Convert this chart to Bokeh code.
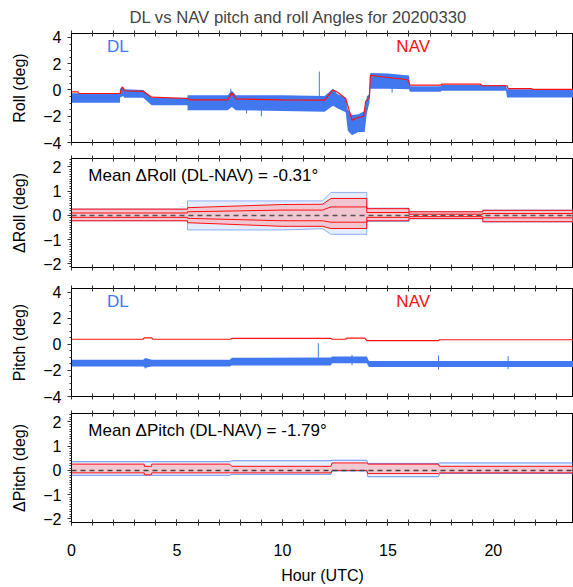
from bokeh.plotting import figure
from bokeh.layouts import column
from bokeh.models import Range1d, LinearAxis, SingleIntervalTicker, FixedTicker, Label, Span
from bokeh.embed import file_html
from bokeh.resources import INLINE

FONT = "Liberation Sans"
BLUE = "#4178f0"
LBLUE = "#a8c0f8"
RED = "#ff1010"
PINK = "#ff9898"

TITLE = "DL vs NAV pitch and roll Angles for 20200330"
X_LABEL = "Hour (UTC)"
X_END = 23.8
X_HOUR_TICKS = list(range(0, 24))

# ---------------- Roll ----------------
nav_roll_h = [0, 0.3, 0.35, 2.3, 2.4, 2.55, 3.4, 3.8, 5.5, 5.6, 7.4, 7.6, 7.8, 10.0, 12.0, 12.4,
              12.6, 13.0, 13.3, 13.5, 13.85, 13.95, 14.12, 14.17, 15.0, 15.95, 16.05, 17.5, 17.55,
              19.4, 19.45, 20.65, 20.7, 21.8, 21.85, 23.8]
nav_roll = [-0.14, -0.14, -0.27, -0.27, 0.24, -0.06, -0.1, -0.55, -0.65, -0.75, -0.75, -0.22, -0.68,
            -0.76, -0.78, 0.0, -0.15, -0.65, -2.3, -2.15, -2.0, -0.85, -0.6, 1.12, 0.95, 0.78, 0.37,
            0.37, 0.44, 0.44, 0.32, 0.32, 0.11, 0.11, 0.04, 0.04]

dl_roll_h = [0, 2.3, 2.3, 2.45, 2.5, 3.4, 3.8, 5.5, 5.5, 7.4, 7.6, 7.8, 10.0, 12.0, 12.4, 12.6,
             13.0, 13.1, 13.3, 13.6, 13.9, 14.0, 14.12, 14.17, 15.0, 16.0, 16.05, 17.5, 17.55,
             20.6, 20.65, 23.8]
dl_roll_hi = [-0.25, -0.25, 0.1, 0.25, 0.05, 0.0, -0.6, -0.6, -0.4, -0.4, -0.05, -0.4, -0.4, -0.45,
              0.1, -0.3, -0.6, -1.5, -1.9, -1.85, -1.6, -0.5, -0.3, 1.3, 1.25, 1.1, 0.29, 0.29,
              0.37, 0.37, 0.05, 0.05]
dl_roll_lo = [-0.97, -0.97, -0.6, -0.45, -0.6, -0.6, -1.16, -1.16, -1.54, -1.54, -1.3, -1.54, -1.6,
              -1.66, -1.2, -1.4, -1.7, -3.1, -3.45, -3.2, -3.2, -1.8, -1.0, 0.1, 0.1, 0.05, -0.14,
              -0.14, -0.06, -0.06, -0.57, -0.57]

roll_spike_h = [11.75, 9.0, 7.55, 15.2, 8.3]
roll_spike_lo = [-0.6, -2.0, -1.2, -0.2, -1.8]
roll_spike_hi = [1.4, -1.5, 0.1, 0.5, -1.4]

# ---------------- Delta roll ----------------
droll_h = [0, 5.5, 5.5, 10.0, 11.9, 12.3, 14.0, 14.0, 16.0, 16.0, 19.5, 19.5, 23.8]
droll_blue_hi = [0.26, 0.26, 0.6, 0.6, 0.6, 0.95, 0.95, 0.3, 0.3, 0.16, 0.16, 0.22, 0.22]
droll_blue_lo = [-0.22, -0.22, -0.6, -0.6, -0.55, -0.78, -0.78, -0.25, -0.25, -0.14, -0.14, -0.27, -0.27]
droll_red_hi = [0.26, 0.26, 0.32, 0.45, 0.46, 0.7, 0.7, 0.28, 0.28, 0.15, 0.15, 0.21, 0.21]
droll_red_lo = [-0.22, -0.22, -0.3, -0.45, -0.45, -0.54, -0.54, -0.22, -0.22, -0.13, -0.13, -0.26, -0.26]
droll_red_in_hi = [0.1, 0.1, 0.15, 0.22, 0.22, 0.35, 0.35, 0.12, 0.12, 0.05, 0.05, 0.08, 0.08]
droll_red_in_lo = [-0.08, -0.08, -0.12, -0.22, -0.22, -0.28, -0.28, -0.08, -0.08, -0.05, -0.05, -0.1, -0.1]
droll_mean = -0.31

# ---------------- Pitch ----------------
nav_pitch_h = [0, 3.4, 3.45, 3.8, 3.85, 7.55, 7.6, 12.3, 12.35, 13.0, 13.05, 13.9, 14.0, 17.4, 17.45, 23.8]
nav_pitch = [0.40, 0.40, 0.50, 0.50, 0.40, 0.40, 0.47, 0.47, 0.40, 0.40, 0.48, 0.48, 0.29, 0.29, 0.36, 0.36]

dl_pitch_h = [0, 3.4, 3.5, 3.8, 7.5, 7.6, 12.3, 12.35, 14.0, 14.1, 23.8]
dl_pitch_hi = [-1.18, -1.18, -1.05, -1.18, -1.18, -1.03, -1.0, -0.93, -0.93, -1.28, -1.28]
dl_pitch_lo = [-1.69, -1.69, -1.8, -1.69, -1.69, -1.61, -1.61, -1.45, -1.45, -1.74, -1.74]

pitch_spike_h = [11.7, 17.4, 20.7, 3.5, 13.3]
pitch_spike_lo = [-1.0, -1.94, -1.9, -1.85, -1.6]
pitch_spike_hi = [0.09, -0.85, -0.9, -1.1, -0.8]

# ---------------- Delta pitch ----------------
dpitch_h = [0, 3.45, 3.45, 3.8, 3.8, 7.5, 7.6, 12.3, 12.35, 14.0, 14.05, 17.4, 17.45, 23.8]
dpitch_blue_hi = [0.36, 0.36, 0.36, 0.36, 0.36, 0.36, 0.4, 0.4, 0.42, 0.42, 0.29, 0.29, 0.31, 0.31]
dpitch_blue_lo = [-0.2, -0.2, -0.2, -0.2, -0.2, -0.2, -0.16, -0.16, -0.02, -0.02, -0.26, -0.26, -0.13, -0.13]
dpitch_red_hi = [0.26, 0.26, 0.17, 0.17, 0.26, 0.26, 0.17, 0.17, 0.31, 0.31, 0.26, 0.26, 0.17, 0.17]
dpitch_red_lo = [-0.1, -0.1, -0.18, -0.18, -0.1, -0.1, -0.1, -0.1, 0.0, 0.0, -0.13, -0.13, -0.1, -0.1]
dpitch_mean = -1.79

X_TICK_INTERVAL = 5
ANGLE_TICK_INTERVAL = 2
DELTA_TICK_INTERVAL = 1


def style_x(ax):
    ax.major_tick_in = 3
    ax.major_tick_out = 3
    ax.minor_tick_in = 3
    ax.minor_tick_out = 3
    ax.axis_line_color = "black"
    ax.major_tick_line_color = "#333333"
    ax.minor_tick_line_color = "#333333"
    ax.major_label_text_font = FONT
    ax.major_label_standoff = 0


def make_fig(ylabel, yr, yint, yminor, top, fh, bottom, show_x=False):
    p = figure(frame_width=502, frame_height=fh, output_backend="svg", toolbar_location=None,
               x_range=Range1d(0, X_END), y_range=Range1d(*yr),
               min_border_left=71, min_border_right=0, min_border_top=top,
               min_border_bottom=bottom, background_fill_color="white",
               border_fill_color="white")
    p.xgrid.grid_line_color = None
    p.ygrid.grid_line_color = None
    p.outline_line_color = "black"
    p.outline_line_width = 1
    top_ax = LinearAxis(ticker=FixedTicker(ticks=[], minor_ticks=X_HOUR_TICKS))
    p.add_layout(top_ax, "above")
    style_x(top_ax)
    bx = p.below[0]
    style_x(bx)
    if show_x:
        bx.ticker = SingleIntervalTicker(interval=X_TICK_INTERVAL, num_minor_ticks=5)
        bx.major_label_text_font_size = "16px"
        bx.major_label_text_color = "black"
        bx.major_label_standoff = 18
        bx.axis_label = X_LABEL
        bx.axis_label_text_font = FONT
        bx.axis_label_text_font_size = "16px"
        bx.axis_label_text_font_style = "normal"
        bx.axis_label_text_color = "black"
        bx.axis_label_standoff = 8
    else:
        bx.ticker = FixedTicker(ticks=[], minor_ticks=X_HOUR_TICKS)
    ya = p.yaxis[0]
    ya.ticker = SingleIntervalTicker(interval=yint, num_minor_ticks=yminor)
    ya.major_tick_in = 0
    ya.major_tick_out = 4
    ya.minor_tick_in = 0
    ya.minor_tick_out = 2
    ya.axis_line_color = "black"
    ya.major_tick_line_color = "#333333"
    ya.minor_tick_line_color = "#333333"
    ya.major_label_text_font = FONT
    ya.major_label_text_font_size = "16px"
    ya.major_label_text_color = "black"
    ya.major_label_standoff = 6
    ya.axis_label = ylabel
    ya.axis_label_text_font = FONT
    ya.axis_label_text_font_size = "16px"
    ya.axis_label_text_font_style = "normal"
    ya.axis_label_text_color = "black"
    ya.axis_label_standoff = 12
    return p


def txt(p, x, y, s, color, align="center", size="16px"):
    p.add_layout(Label(x=x, y=y, text=s, text_color=color, text_font=FONT,
                       text_font_size=size, text_align=align, text_baseline="middle"))


# Panel 1: roll
p1 = make_fig("Roll (deg)", (-4.0, 4.3), ANGLE_TICK_INTERVAL, 4, 33, 109, 8)
p1.title.text = TITLE
p1.title.text_font = FONT
p1.title.text_font_size = "16.7px"
p1.title.text_font_style = "normal"
p1.title.align = "left"
p1.title.offset = 58
p1.title.standoff = 7
p1.varea(x=dl_roll_h, y1=dl_roll_lo, y2=dl_roll_hi, fill_color=BLUE)
p1.segment(x0=roll_spike_h, y0=roll_spike_lo, x1=roll_spike_h, y1=roll_spike_hi, line_color=BLUE, line_width=1)
p1.line(nav_roll_h, nav_roll, line_color=RED, line_width=1.2)
txt(p1, 2.2, 3.3, "DL", BLUE, size="17px")
txt(p1, 16.2, 3.3, "NAV", RED, size="17px")

# Panel 2: delta roll
p2 = make_fig("\u0394Roll (deg)", (-2.15, 2.35), DELTA_TICK_INTERVAL, 10, 8, 109, 10)
p2.varea(x=droll_h, y1=droll_blue_lo, y2=droll_blue_hi, fill_color=LBLUE, fill_alpha=0.3)
p2.line(droll_h, droll_blue_hi, line_color=BLUE, line_width=0.8, line_alpha=0.7)
p2.line(droll_h, droll_blue_lo, line_color=BLUE, line_width=0.8, line_alpha=0.7)
p2.varea(x=droll_h, y1=droll_red_lo, y2=droll_red_hi, fill_color=PINK, fill_alpha=0.45)
for arr in (droll_red_hi, droll_red_lo, droll_red_in_hi, droll_red_in_lo):
    p2.line(droll_h, arr, line_color=RED, line_width=1)
p2.add_layout(Span(location=0, dimension="width", line_color="#555555", line_dash="5 4", line_width=1.5))
txt(p2, 0.8, 1.66, "Mean \u0394Roll (DL-NAV) = %.2f\u00b0" % droll_mean, "black", "left", "17px")

# Panel 3: pitch
p3 = make_fig("Pitch (deg)", (-4.0, 4.3), ANGLE_TICK_INTERVAL, 4, 11, 108, 8)
p3.varea(x=dl_pitch_h, y1=dl_pitch_lo, y2=dl_pitch_hi, fill_color=BLUE)
p3.segment(x0=pitch_spike_h, y0=pitch_spike_lo, x1=pitch_spike_h, y1=pitch_spike_hi, line_color=BLUE, line_width=1)
p3.line(nav_pitch_h, nav_pitch, line_color=RED, line_width=1.2)
txt(p3, 2.2, 3.3, "DL", BLUE, size="17px")
txt(p3, 16.2, 3.3, "NAV", RED, size="17px")

# Panel 4: delta pitch
p4 = make_fig("\u0394Pitch (deg)", (-2.15, 2.35), DELTA_TICK_INTERVAL, 10, 9, 109, 60, show_x=True)
p4.varea(x=dpitch_h, y1=dpitch_blue_lo, y2=dpitch_blue_hi, fill_color=LBLUE, fill_alpha=0.25)
p4.line(dpitch_h, dpitch_blue_hi, line_color=BLUE, line_width=1, line_alpha=0.8)
p4.line(dpitch_h, dpitch_blue_lo, line_color=BLUE, line_width=1, line_alpha=0.8)
p4.varea(x=dpitch_h, y1=dpitch_red_lo, y2=dpitch_red_hi, fill_color=PINK, fill_alpha=0.45)
p4.line(dpitch_h, dpitch_red_hi, line_color=RED, line_width=1)
p4.line(dpitch_h, dpitch_red_lo, line_color=RED, line_width=1)
p4.add_layout(Span(location=0, dimension="width", line_color="#444444", line_dash="5 4", line_width=1.5))
txt(p4, 0.8, 1.66, "Mean \u0394Pitch (DL-NAV) = %.2f\u00b0" % dpitch_mean, "black", "left", "17px")

layout = column(p1, p2, p3, p4, spacing=0)
open("out.html", "w").write(file_html(layout, INLINE))
